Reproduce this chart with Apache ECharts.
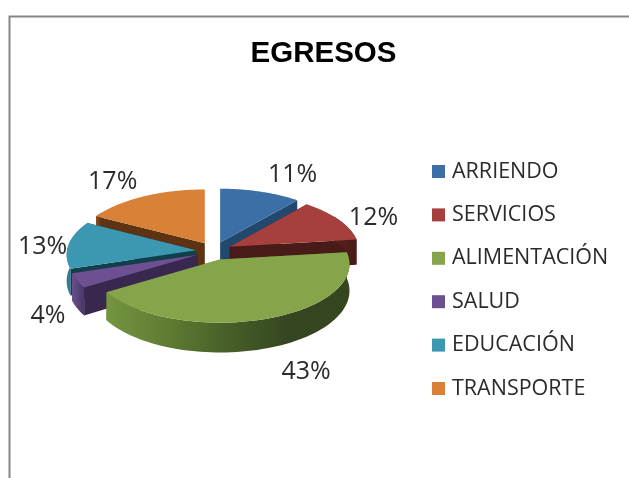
<!DOCTYPE html>
<html><head><meta charset="utf-8">
<style>html,body{margin:0;padding:0;background:#fff}#c{width:629px;height:478px}</style>
<script src="https://cdn.jsdelivr.net/npm/echarts@6/dist/echarts.min.js"></script>
</head><body><div id="c"></div>
<script>
const categories = ['ARRIENDO','SERVICIOS','ALIMENTACIÓN','SALUD','EDUCACIÓN','TRANSPORTE'];
const percentages = [11,12,43,4,13,17];
const topColors = ['#3b6fa6','#a5403e','#86a54b','#6c5091','#3c97b1','#d98137'];
const cutColors = ['#23486e','#481a18','#5a7530','#38284f','#123f4c','#5e3313'];
const wallStops = [
  [[0,'#2d5a8a'],[1,'#23486e']],
  [[0,'#5c2220'],[1,'#481a18']],
  [[0,'#75953f'],[0.25,'#5f7c33'],[0.5,'#475f28'],[0.75,'#344620'],[1,'#35461f']],
  [[0,'#6a4f8c'],[1,'#4a3668']],
  [[0,'#2f7c92'],[1,'#2a6f83']],
  [[0,'#8a4f20'],[1,'#5e3313']]
];
const drawOrder = [5,0,4,1,3,2];
const labelShift = [[32,-17],[35,-2],[39,53],[-29,35],[-26,2],[-31,-14]];

const CX=214, CY=251, RX=129, RY=58.5, EX=18, EY=9, DEPTH=26, PERSP=0.08;
const total = percentages.reduce((a,b)=>a+b,0);
function span(i){
  const before = percentages.slice(0,i).reduce((a,b)=>a+b,0);
  return [before/total*2*Math.PI,(before+percentages[i])/total*2*Math.PI];
}
function apex(i){
  const s=span(i), m=(s[0]+s[1])/2;
  return [CX+EX*Math.sin(m), CY-EY*Math.cos(m)];
}
function rim(i,t){
  const a=apex(i), k=1-PERSP*Math.cos(t);
  return [a[0]+RX*k*Math.sin(t), a[1]-RY*k*Math.cos(t)];
}
function down(p){return [p[0],p[1]+DEPTH*(1+0.12*(p[1]-CY)/RY)];}
function poly(points,fill,z2){
  return {type:'polygon',shape:{points},style:{fill,stroke:null},z2,silent:true};
}
function sliceRender(i){
  return function(params,api){
    const value=api.value(0);
    const [a,b]=span(i), A=apex(i), z=drawOrder.indexOf(i)*10;
    const kids=[];
    const arc=[]; const N=72;
    for(let n=0;n<=N;n++) arc.push(rim(i,a+(b-a)*n/N));
    [arc[0],arc[N]].forEach(e=>kids.push(poly([A,e,down(e),down(A)],cutColors[i],z)));
    const front=arc.filter((p,n)=>{const t=a+(b-a)*n/N;return Math.cos(t)<0.55;});
    if(front.length>1){
      kids.push(poly(front.concat(front.slice().reverse().map(down)),
        {type:'linear',x:0,y:0,x2:1,y2:0,colorStops:wallStops[i].map(s=>({offset:s[0],color:s[1]}))},z+1));
    }
    kids.push(poly([A].concat(arc),topColors[i],z+2));
    const mid=rim(i,(a+b)/2);
    kids.push({type:'text',z2:100,silent:true,style:{
      x:mid[0]+labelShift[i][0],y:mid[1]+labelShift[i][1],text:value+'%',
      fill:'#2b2b2b',font:'25px "Open Sans"',align:'center',verticalAlign:'middle'}});
    return {type:'group',children:kids};
  };
}
const chart=echarts.init(document.getElementById('c'),null,{renderer:'canvas'});
chart.setOption({
  animation:false,
  backgroundColor:'#ffffff',
  title:{text:'EGRESOS',left:318.5,top:34,textAlign:'center',
    textStyle:{fontFamily:'Liberation Sans',fontWeight:'bold',fontSize:29.5,color:'#000'}},
  legend:{orient:'vertical',left:432,top:160.5,padding:0,itemWidth:13,itemHeight:13,itemGap:21.4,icon:'rect',
    selectedMode:false,data:categories,
    textStyle:{fontFamily:'Open Sans',fontSize:21.5,color:'#2b2b2b',padding:[0,0,0,2]}},
  graphic:[
    {type:'polyline',shape:{points:[[9.5,478],[9.5,16.5],[629,16.5]]},style:{fill:null,stroke:'#868686',lineWidth:2},silent:true}
  ],
  series:categories.map((name,i)=>({
    type:'custom',name,coordinateSystem:'none',
    itemStyle:{color:topColors[i]},
    data:[[percentages[i]]],
    renderItem:sliceRender(i)
  }))
});
</script></body></html>
